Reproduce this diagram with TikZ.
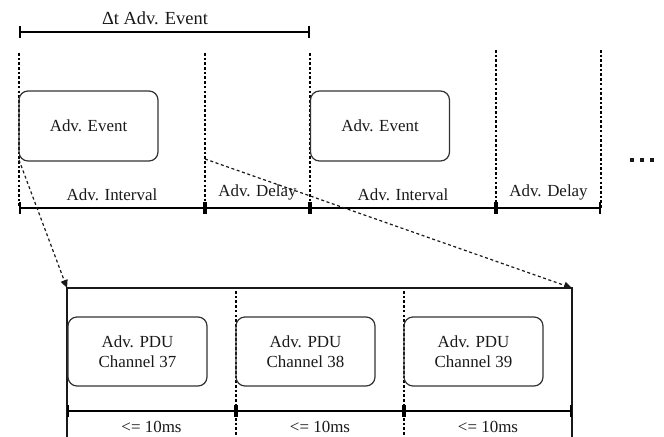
\documentclass[tikz,border=0pt]{standalone}
\usepackage{fontspec}
\setmainfont{Liberation Serif}
\usetikzlibrary{arrows.meta}
\begin{document}
\begin{tikzpicture}[x=1bp,y=-1bp,
  every node/.style={font=\fontsize{17}{20}\selectfont, text=black!90},
  box/.style={draw=black!80, line width=1.2bp, rounded corners=9bp,
    minimum width=139bp, minimum height=70bp, inner sep=0pt, align=center},
  timebar/.style={draw=black, line width=2.3bp, {Bar[width=12bp,line width=2.3bp]}-{Bar[width=12bp,line width=2.3bp]}},
  guide/.style={draw=black, line width=2.7bp, dash pattern=on 2.6bp off 2.1bp},
  zoomline/.style={draw=black!90, line width=1.2bp, dash pattern=on 3bp off 2.6bp,
    -{Triangle[length=8bp,width=7bp]}},
  frame/.style={draw=black!90, line width=1.2bp}
]
\useasboundingbox (0,0) rectangle (664,437);

% overall event period
\coordinate (d0) at (19,32);
\coordinate (d1) at (310,32);
\draw[timebar] (d0) -- (d1);
\node[font=\fontsize{18.5}{22}\selectfont] (dlabel) at (155,18) {Δt Adv. Event};

% upper timeline marks
\foreach \n/\x/\ytop in {0/19/53, 1/205/53, 2/310/53, 3/496/50, 4/601/50} {
  \coordinate (g\n) at (\x,\ytop);
  \coordinate (t\n) at (\x,208);
  \draw[guide] (g\n) -- (t\n);
}

% advertising events
\node[box] (ev1) at (88.5,126) {Adv. Event};
\node[box] (ev2) at (380,126) {Adv. Event};

% upper timeline
\draw[timebar] (t0) -- (t1) node[midway, above=3bp] (l1) {Adv. Interval};
\draw[timebar] (t1) -- (t2) node[midway, above=3bp] (l2) {Adv. Delay};
\draw[timebar] (t2) -- (t3) node[midway, above=3bp] (l3) {Adv. Interval};
\draw[timebar] (t3) -- (t4) node[midway, above=3bp] (l4) {Adv. Delay};

% continuation dots
\foreach \i/\x in {a/632, b/642, c/652}
  \fill[black!90] (\x-2.2,158) rectangle (\x+2.2,162.4) coordinate (dot\i);

% detail frame
\coordinate (fBL) at (67,437);
\coordinate (fTL) at (67,288);
\coordinate (fTR) at (572,288);
\coordinate (fBR) at (572,437);
\draw[frame] (fBL) -- (fTL) -- (fTR) -- (fBR);

% zoom connectors
\coordinate (z0) at (19,160);
\coordinate (z1) at (205,159);
\draw[zoomline] (z0) -- (fTL);
\draw[zoomline] (z1) -- (fTR);

% channel separators
\coordinate (s1t) at (236,291);
\coordinate (s1b) at (236,437);
\coordinate (s2t) at (404,291);
\coordinate (s2b) at (404,437);
\draw[guide] (s1t) -- (s1b);
\draw[guide] (s2t) -- (s2b);

% advertising PDUs
\node[box, minimum height=69bp] (p37) at (137.5,351.5) {Adv. PDU\\Channel 37};
\node[box, minimum height=69bp] (p38) at (305.5,351.5) {Adv. PDU\\Channel 38};
\node[box, minimum height=69bp] (p39) at (473.5,351.5) {Adv. PDU\\Channel 39};

% lower timeline
\coordinate (u0) at (67,411);
\coordinate (u1) at (236,411);
\coordinate (u2) at (404,411);
\coordinate (u3) at (572,411);
\draw[timebar] (u0) -- (u1) node[midway, below=6bp] (m1) {<= 10ms};
\draw[timebar] (u1) -- (u2) node[midway, below=6bp] (m2) {<= 10ms};
\draw[timebar] (u2) -- (u3) node[midway, below=6bp] (m3) {<= 10ms};
\end{tikzpicture}
\end{document}
